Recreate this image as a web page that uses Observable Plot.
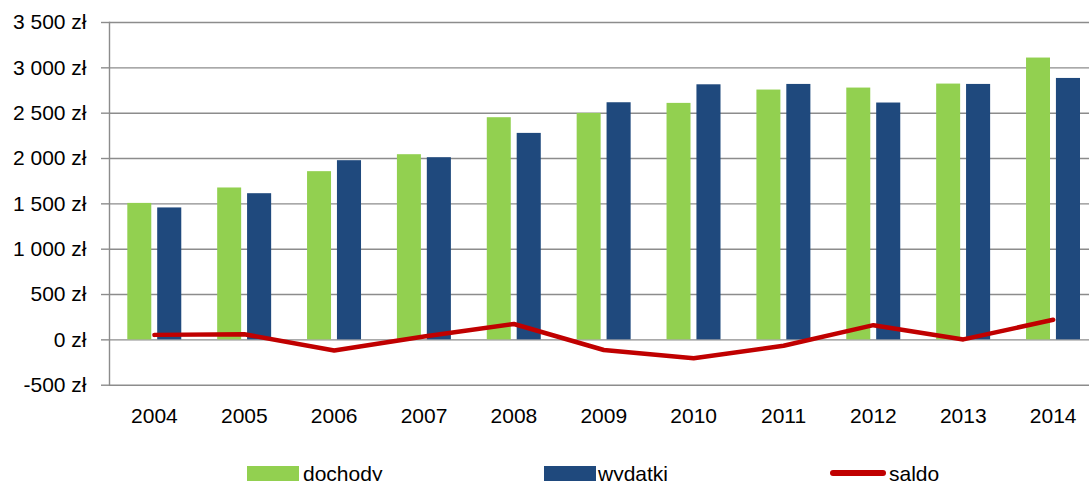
<!DOCTYPE html>
<html><head><meta charset="utf-8">
<script src="https://cdn.jsdelivr.net/npm/d3@7"></script>
<script src="https://cdn.jsdelivr.net/npm/@observablehq/plot@0.6"></script>
<style>
body{margin:0;background:#fff;font-family:"Liberation Sans",Arial,sans-serif;}
#wrap{position:relative;width:1089px;height:481px;overflow:hidden;background:#fff;}
.sw{position:absolute;}
.lt{position:absolute;font-size:21px;line-height:21px;color:#000;white-space:nowrap;}
</style></head><body>
<div id="wrap"><div id="chart"></div><div id="legend"></div></div>
<script>
const years = ["2004","2005","2006","2007","2008","2009","2010","2011","2012","2013","2014"];
const dochody = [1505, 1675, 1855, 2042, 2450, 2497, 2608, 2755, 2777, 2821, 3108];
const wydatki = [1455, 1612, 1976, 2009, 2277, 2615, 2813, 2817, 2612, 2817, 2883];
const saldo = [55, 62, -118, 38, 175, -112, -203, -65, 162, 5, 222];
const yTicks = [-500, 0, 500, 1000, 1500, 2000, 2500, 3000, 3500];
const seriesNames = ["dochody", "wydatki", "saldo"];
const seriesColors = ["#92D050", "#1F497D", "#C00000"];

const rows = years.map((y, i) => ({year: y, dochody: dochody[i], wydatki: wydatki[i], saldo: saldo[i]}));
const fmt = d => (d < 0 ? "-" : "") + d3.format(",")(Math.abs(d)).replace(/,/g, " ") + " zł";
const grid = "#8c8c8c";

const chart = Plot.plot({
  width: 1089, height: 440,
  marginTop: 22, marginLeft: 109, marginRight: 0, marginBottom: 55.3,
  style: {fontFamily: "'Liberation Sans', Arial, sans-serif", fontSize: "21px", color: "#000", background: "#fff", overflow: "visible"},
  x: {domain: years, range: [109, 1097.6], padding: 0, round: false, label: null},
  y: {domain: [-500, 3500], label: null},
  marks: [
    Plot.gridY(yTicks, {stroke: grid, strokeOpacity: 1, strokeWidth: 1.4}),
    Plot.frame({anchor: "left", stroke: grid, strokeWidth: 1.4}),
    Plot.axisY(yTicks, {tickFormat: fmt, tickSize: 8, tickPadding: 15, stroke: grid, strokeWidth: 1.4, label: null}),
    Plot.axisX({tickSize: 0, tickPadding: 23, label: null}),
    Plot.barY(rows, {x: "year", y: "dochody", fill: seriesColors[0], insetLeft: 18.3, insetRight: 47.6}),
    Plot.barY(rows, {x: "year", y: "wydatki", fill: seriesColors[1], insetLeft: 48.2, insetRight: 17.6}),
    Plot.lineY(rows, {x: "year", y: "saldo", stroke: seriesColors[2], strokeWidth: 4.5, strokeLinecap: "round", strokeLinejoin: "round"})
  ]
});
document.getElementById("chart").appendChild(chart);

const leg = document.getElementById("legend");
const items = [
  {sw: 247, tx: 303, kind: "rect"},
  {sw: 544, tx: 598, kind: "rect"},
  {sw: 830, tx: 889, kind: "line"}
];
items.forEach((it, i) => {
  const s = document.createElement("div");
  s.className = "sw";
  s.style.left = it.sw + "px";
  s.style.background = seriesColors[i];
  if (it.kind === "rect") { s.style.top = "466px"; s.style.width = "52px"; s.style.height = "16px"; }
  else { s.style.top = "470px"; s.style.width = "56px"; s.style.height = "5.5px"; s.style.borderRadius = "3px"; }
  leg.appendChild(s);
  const t = document.createElement("div");
  t.className = "lt";
  t.style.left = it.tx + "px";
  t.style.top = "463px";
  t.textContent = seriesNames[i];
  leg.appendChild(t);
});
</script>
</body></html>
